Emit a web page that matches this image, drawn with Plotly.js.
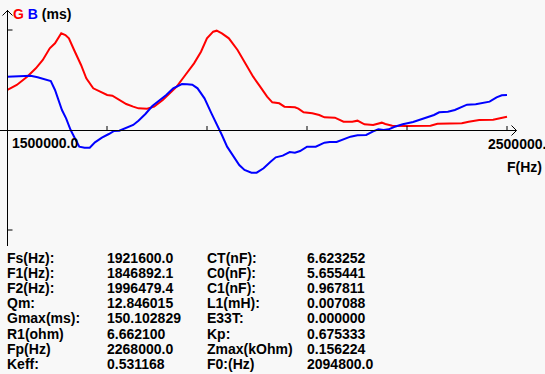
<!DOCTYPE html>
<html>
<head>
<meta charset="utf-8">
<script src="https://cdn.plot.ly/plotly-3.0.1.min.js"></script>
<style>html,body{margin:0;padding:0;background:#f8f8f8;}#chart{width:545px;height:374px;}</style>
</head>
<body>
<div id="chart"></div>
<script>
// ---- data (frequency in Hz, values in ms) ----
const freqG = [1500000,1519500,1540300,1557700,1571600,1585500,1596000,1608500,1616800,1623800,1634200,1648100,1658600,1672500,1686400,1700300,1710700,1724600,1738500,1752400,1762900,1780200,1794200,1811500,1825400,1839400,1856700,1874100,1888000,1899900,1912400,1919300,1929800,1943700,1961100,1978400,1992300,2006300,2020200,2030600,2044500,2054900,2075800,2082700,2093200,2110600,2124500,2134900,2155800,2173100,2190500,2201000,2214900,2232300,2249600,2256600,2270500,2298300,2319200,2347000,2360900,2388700,2409600,2423500,2444400,2472200,2486100,2500000];
const valG = [60,67.5,80,92.5,105,122.5,130,145,142.5,137.5,120,97.5,77.5,62.5,57.5,52.5,51.5,45,39,35,32.5,32,35,45,55,65,82.5,100,117.5,137.5,147.5,149,145,137.5,120,97.5,80,65,50,41.5,40,35,34,32,26.5,25,22.5,19,18.5,12.5,12.5,14,8.5,7.5,11,9,6.5,6,6,6.5,9.5,9.5,10,12.5,15,15.5,17.5,20];
const freqB = [1500000,1519500,1547300,1561200,1575100,1587600,1596000,1602900,1609900,1618200,1627300,1634200,1644600,1655100,1665500,1675900,1689800,1703700,1714200,1724600,1735000,1745500,1752400,1762900,1776800,1790700,1804600,1818500,1832400,1842800,1849800,1860200,1870600,1881100,1895000,1908900,1919300,1929800,1940200,1950600,1964500,1975000,1988900,1999300,2013200,2027100,2037500,2051500,2065400,2075800,2086200,2100100,2117500,2134900,2145300,2159200,2173100,2187000,2201000,2218400,2232300,2242700,2253100,2263500,2274000,2291400,2312200,2333100,2354000,2364400,2381800,2395700,2409600,2420000,2437400,2451300,2465200,2479100,2489600,2500000];
const valB = [80,81,81.5,79,76.5,73.5,60,45,30,17.5,0,-10,-25,-26.5,-26.5,-18.5,-11.5,-6,-1.5,-1,2.5,6,7.5,14,24,36,44,52.5,62.5,66,69,68.5,68,62.5,47.5,25,10,-7.5,-25,-37.5,-52.5,-60,-64,-64,-57.5,-47.5,-41,-38.5,-33,-34,-31.5,-25,-25,-19,-18,-18,-14,-10,-8,-7.5,-2,1,0,1,4.5,8.5,12,17,22.5,26.5,27.5,30,34,38,38.5,40,42.5,49,52,52.5];
const xTickVals = [1700000,1900000,2100000,2300000,2500000];
const yTickVals = [150,-150];
const xStartLabel = "1500000.0";
const xEndLabel = "2500000.0";
const xTitle = "F(Hz)";
const labels1 = ["Fs(Hz):","F1(Hz):","F2(Hz):","Qm:","Gmax(ms):","R1(ohm)","Fp(Hz)","Keff:"];
const values1 = ["1921600.0","1846892.1","1996479.4","12.846015","150.102829","6.662100","2268000.0","0.531168"];
const labels2 = ["CT(nF):","C0(nF):","C1(nF):","L1(mH):","E33T:","Kp:","Zmax(kOhm)","F0:(Hz)"];
const values2 = ["6.623252","5.655441","0.967811","0.007088","0.000000","0.675333","0.156224","2094800.0"];

// ---- geometry ----
const L = 7, R = 28, T = 10, B = 128, W = 545, H = 374;
const PW = W - L - R, PH = H - T - B;
const px = x => (x - L) / PW;
const py = y => (H - B - y) / PH;
const font = {family: "Liberation Sans, Arial, sans-serif", size: 14, color: "#000", weight: "bold"};

const shapes = [];
const line = {color: "#000", width: 1};
shapes.push({type: "line", xref: "paper", yref: "paper", x0: px(0), x1: px(516.5), y0: py(130.5), y1: py(130.5), line});
shapes.push({type: "path", xref: "paper", yref: "paper", path: "", line});
shapes.push({type: "line", xref: "paper", yref: "paper", x0: px(7.5), x1: px(7.5), y0: py(10), y1: py(246), line});
// arrows
shapes.push({type: "line", xref: "paper", yref: "paper", x0: px(511.5), x1: px(516.5), y0: py(125.5), y1: py(130.5), line});
shapes.push({type: "line", xref: "paper", yref: "paper", x0: px(511.5), x1: px(516.5), y0: py(135.5), y1: py(130.5), line});
shapes.push({type: "line", xref: "paper", yref: "paper", x0: px(2.5), x1: px(7.5), y0: py(15.5), y1: py(10.5), line});
shapes.push({type: "line", xref: "paper", yref: "paper", x0: px(12.5), x1: px(7.5), y0: py(15.5), y1: py(10.5), line});
shapes.splice(1,1);
xTickVals.forEach(v => shapes.push({type: "line", xref: "x", yref: "y", x0: v, x1: v, y0: 0, y1: 6, line}));
yTickVals.forEach(v => shapes.push({type: "line", xref: "paper", yref: "y", x0: px(7.5), x1: px(12.5), y0: v, y1: v, line}));

const ann = [];
function addText(text, x, yc, extra) {
  ann.push(Object.assign({text, xref: "paper", yref: "paper", x: px(x), y: py(yc), xanchor: "left", yanchor: "middle", showarrow: false, font, borderpad: 0}, extra || {}));
}
addText("<span style='color:#ff0000'>G</span> <span style='color:#0000ff'>B</span> (ms)", 12, 14);
addText(xStartLabel, 11, 143.5);
addText(xEndLabel, 487, 144.5);
addText(xTitle, 505.5, 166.5);
for (let i = 0; i < labels1.length; i++) {
  const yc = 257.8 + 15.14 * i;
  addText(labels1[i], 6, yc);
  addText(values1[i], 106, yc);
  addText(labels2[i], 206, yc);
  addText(values2[i], 306, yc);
}

const traces = [
  {x: freqG, y: valG, mode: "lines", line: {color: "#ff0000", width: 2}, hoverinfo: "skip", cliponaxis: false},
  {x: freqB, y: valB, mode: "lines", line: {color: "#0000ff", width: 2}, hoverinfo: "skip", cliponaxis: false}
];
const layout = {
  width: W, height: H,
  margin: {l: L, r: R, t: T, b: B, pad: 0},
  paper_bgcolor: "#f8f8f8", plot_bgcolor: "#f8f8f8",
  showlegend: false,
  xaxis: {range: [1500000, 1500000 + PW * 2000], visible: false, fixedrange: true},
  yaxis: {range: [(130 - (H - B)) * 1.5, (130 - T) * 1.5], visible: false, fixedrange: true},
  shapes, annotations: ann
};
Plotly.newPlot("chart", traces, layout, {displayModeBar: false, staticPlot: true});
</script>
</body>
</html>
